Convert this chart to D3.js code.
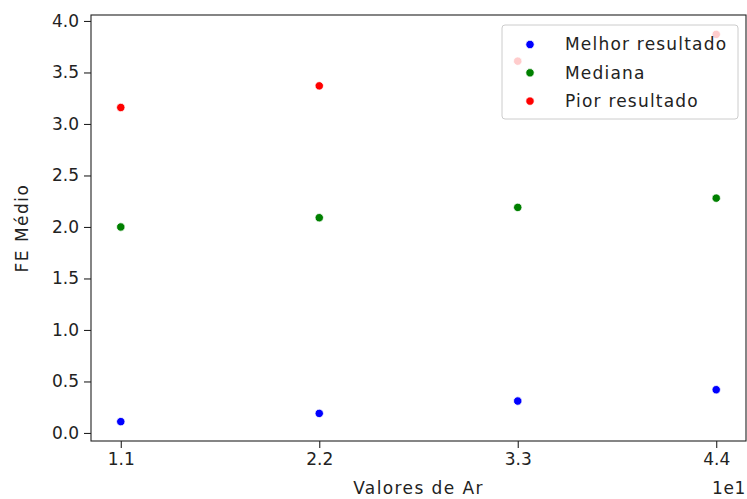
<!DOCTYPE html>
<html>
<head>
<meta charset="utf-8">
<script src="https://cdn.jsdelivr.net/npm/d3@7"></script>
<style>
  html, body { margin: 0; padding: 0; background: #fff; }
  svg { display: block; font-family: "DejaVu Sans", sans-serif; }
</style>
</head>
<body>
<svg id="chart" width="747" height="499"></svg>
<script>
// Ar values (x) and mean FE per outcome
const arValues = [11, 22, 33, 44];
const melhor   = [0.11, 0.19, 0.31, 0.42];
const mediana  = [2.00, 2.09, 2.19, 2.28];
const pior     = [3.16, 3.37, 3.61, 3.87];
const seriesNames  = ["Melhor resultado", "Mediana", "Pior resultado"];
const seriesColors = ["#0000ff", "#008000", "#ff0000"];
const xTicks = [11, 22, 33, 44];
const yTicks = [0, 0.5, 1, 1.5, 2, 2.5, 3, 3.5, 4];

const series = [melhor, mediana, pior].map((vals, i) => ({
  name: seriesNames[i], color: seriesColors[i],
  points: vals.map((v, j) => ({ x: arValues[j], y: v }))
}));

const svg = d3.select("#chart");
const m = { left: 91, right: 746, top: 15, bottom: 441 };

// autoscale with 5% padding on each side
function padded(vals) {
  const lo = d3.min(vals), hi = d3.max(vals), p = (hi - lo) * 0.05;
  return [lo - p, hi + p];
}
const allY = [].concat(melhor, mediana, pior);
const x = d3.scaleLinear().domain(padded(arValues)).range([m.left, m.right]);
const y = d3.scaleLinear().domain(padded(allY)).range([m.bottom, m.top]);

const fontSize = 17;
const wordSpacing = "1.2px";
const axisColor = "#222222";

// points
series.forEach(s => {
  svg.append("g").selectAll("circle").data(s.points).join("circle")
    .attr("cx", d => x(d.x)).attr("cy", d => y(d.y))
    .attr("r", 4.2)
    .attr("fill", s.color)
    .attr("stroke", "#fff").attr("stroke-width", 0.8);
});

// axes
const xAxis = d3.axisBottom(x).tickValues(xTicks)
  .tickFormat(d => (d / 10).toFixed(1)).tickSize(7).tickPadding(5);
const yAxis = d3.axisLeft(y).tickValues(yTicks)
  .tickFormat(d3.format(".1f")).tickSize(7).tickPadding(5);

const gx = svg.append("g").attr("transform", `translate(0,${m.bottom})`).call(xAxis);
const gy = svg.append("g").attr("transform", `translate(${m.left},0)`).call(yAxis);
[gx, gy].forEach(g => {
  g.select(".domain").remove();
  g.selectAll(".tick line").attr("stroke", axisColor).attr("stroke-width", 1.1);
  g.selectAll(".tick text").attr("fill", axisColor)
    .style("font-size", fontSize + "px").style("font-family", "DejaVu Sans");
});

// frame
svg.append("rect")
  .attr("x", m.left).attr("y", m.top)
  .attr("width", m.right - m.left).attr("height", m.bottom - m.top)
  .attr("fill", "none").attr("stroke", axisColor).attr("stroke-width", 1.1);

// axis labels
svg.append("text")
  .attr("x", (m.left + m.right) / 2).attr("y", 494)
  .attr("text-anchor", "middle").attr("fill", axisColor)
  .style("font-size", fontSize + "px").style("letter-spacing", "1.4px")
  .text("Valores de Ar");
svg.append("text")
  .attr("transform", `translate(28,${(m.top + m.bottom) / 2}) rotate(-90)`)
  .attr("text-anchor", "middle").attr("fill", axisColor)
  .style("font-size", fontSize + "px").style("letter-spacing", "1.5px")
  .text("FE Médio");
svg.append("text")
  .attr("x", m.right).attr("y", 494)
  .attr("text-anchor", "end").attr("fill", axisColor)
  .style("font-size", fontSize + "px").style("letter-spacing", "0.6px")
  .text("1e1");

// legend
const lg = svg.append("g").attr("transform", "translate(502,25)");
lg.append("rect")
  .attr("width", 236).attr("height", 94).attr("rx", 3)
  .attr("fill", "#fff").attr("fill-opacity", 0.8)
  .attr("stroke", "#cccccc").attr("stroke-width", 1);
const rows = lg.selectAll("g.row").data(series).join("g")
  .attr("transform", (d, i) => `translate(0,${19.5 + i * 28.3})`);
rows.append("circle").attr("cx", 28).attr("cy", 0).attr("r", 4.2)
  .attr("fill", d => d.color).attr("stroke", "#fff").attr("stroke-width", 0.8);
rows.append("text").attr("x", 63).attr("y", 0).attr("dy", "0.35em")
  .attr("fill", axisColor).style("font-size", fontSize + "px")
  .style("letter-spacing", wordSpacing)
  .text(d => d.name);
</script>
</body>
</html>
